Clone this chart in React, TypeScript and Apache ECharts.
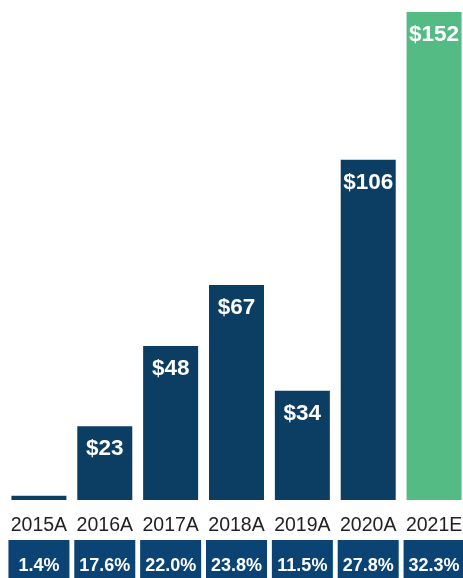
import React, { useEffect, useRef } from "react";
import * as echarts from "echarts";

const categories = ["2015A", "2016A", "2017A", "2018A", "2019A", "2020A", "2021E"];
const values = [1.3, 23, 48, 67, 34, 106, 152];
const growth = ["1.4%", "17.6%", "22.0%", "23.8%", "11.5%", "27.8%", "32.3%"];
const estimateIndex = 6;

const NAVY = "#0c3d63";
const GREEN = "#55bb84";
const BOX = "#0b4474";

export default function App() {
  const ref = useRef<HTMLDivElement>(null);
  useEffect(() => {
    if (!ref.current) return;
    const chart = echarts.init(ref.current, null, { renderer: "svg" });
    chart.setOption({
      animation: false,
      grid: {
        left: 6,
        right: 3,
        top: 12,
        bottom: 78,
        containLabel: false,
        outerBoundsMode: "none",
      },
      xAxis: [
        {
          type: "category",
          data: categories,
          axisLine: { show: false },
          axisTick: { show: false },
          axisLabel: {
            interval: 0,
            hideOverlap: false,
            margin: 14,
            fontSize: 19.5,
            color: "#222222",
            fontFamily: "Liberation Sans, Arial, sans-serif",
          },
        },
        {
          type: "category",
          position: "bottom",
          data: growth,
          axisLine: { show: false },
          axisTick: { show: false },
          axisLabel: {
            interval: 0,
            hideOverlap: false,
            margin: 40,
            fontSize: 18,
            fontWeight: "bold",
            color: "#ffffff",
            fontFamily: "Liberation Sans, Arial, sans-serif",
            backgroundColor: BOX,
            width: 61,
            height: 50,
            lineHeight: 50,
            align: "center",
            verticalAlign: "top",
          },
        },
      ],
      yAxis: {
        type: "value",
        min: 0,
        max: 152,
        show: false,
        splitLine: { show: false },
      },
      series: [
        {
          type: "bar",
          xAxisIndex: 0,
          barWidth: 55,
          data: values.map((v, i) => ({
            value: v,
            itemStyle: { color: i === estimateIndex ? GREEN : NAVY },
            label: { show: v >= 5 },
          })),
          label: {
            show: true,
            position: "insideTop",
            distance: 10,
            color: "#ffffff",
            fontWeight: "bold",
            fontSize: 22.5,
            fontFamily: "Liberation Sans, Arial, sans-serif",
            formatter: (p: any) => "$" + p.value,
          },
        },
      ],
    });
    return () => chart.dispose();
  }, []);
  return (
    <div
      ref={ref}
      style={{ position: "fixed", left: 0, top: 0, width: 470, height: 578 }}
    />
  );
}
